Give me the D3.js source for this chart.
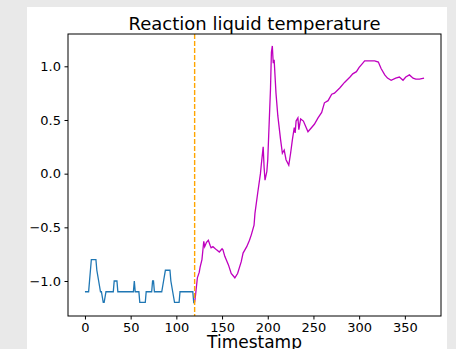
<!DOCTYPE html>
<html>
<head>
<meta charset="utf-8">
<script src="https://cdn.jsdelivr.net/npm/d3@7"></script>
<style>
    html, body { margin: 0; padding: 0; background: #e9e9e9; overflow: hidden; }
    svg { display: block; }
</style>
</head>
<body>
<svg class="chart"></svg>
<script>
// before the change (timestamps 0..120)
const beforeTime = [0, 4, 5, 6, 7, 12, 13, 15, 17, 18, 20, 21, 23, 31, 32, 35, 36, 53, 54, 55,
    59, 60, 66, 67, 73, 74, 75, 76, 84, 86, 88, 93, 94, 96, 98, 103, 104, 118, 119, 120];
const beforeTemp = [-1.1, -1.1, -1.0, -0.9, -0.8, -0.8, -0.9, -1.0, -1.1, -1.1, -1.2, -1.2, -1.1, -1.1, -1.0, -1.0, -1.1, -1.1, -1.0, -1.1,
    -1.1, -1.2, -1.2, -1.1, -1.1, -1.0, -1.0, -1.1, -1.1, -1.0, -0.9, -0.9, -1.0, -1.1, -1.2, -1.2, -1.1, -1.1, -1.2, -1.21];

// after the change (timestamps 120..371)
const afterTime = [120, 121, 123, 125, 126, 128, 130, 131, 133, 135, 137, 138, 140, 144, 147, 150, 151, 153, 157, 160,
    164, 167, 171, 173, 177, 180, 182, 185, 186, 189, 192, 193, 195, 196, 197, 199, 200, 201, 203, 204,
    205, 206, 207, 209, 211, 214, 216, 218, 220, 223, 225, 227, 229, 230, 231, 233, 234, 236, 239, 242,
    244, 248, 251, 255, 259, 262, 266, 270, 273, 279, 284, 290, 293, 297, 300, 304, 306, 312, 317, 321,
    324, 328, 331, 335, 340, 344, 348, 351, 355, 359, 362, 366, 371];
const afterTemp = [-1.2, -1.13, -0.97, -0.92, -0.87, -0.8, -0.63, -0.68, -0.64, -0.62, -0.67, -0.69, -0.68, -0.71, -0.73, -0.7, -0.71, -0.77, -0.85, -0.93,
    -0.97, -0.93, -0.82, -0.74, -0.68, -0.62, -0.57, -0.48, -0.37, -0.18, 0.0, 0.09, 0.25, 0.06, -0.06, 0.02, 0.13, 0.35, 0.79, 1.13,
    1.19, 1.03, 1.06, 0.75, 0.54, 0.32, 0.19, 0.22, 0.13, 0.08, 0.19, 0.32, 0.43, 0.38, 0.49, 0.52, 0.41, 0.51, 0.49, 0.43,
    0.39, 0.43, 0.46, 0.52, 0.57, 0.66, 0.68, 0.74, 0.75, 0.8, 0.85, 0.9, 0.93, 0.95, 0.99, 1.03, 1.05, 1.05, 1.05, 1.04,
    0.98, 0.92, 0.89, 0.87, 0.89, 0.9, 0.87, 0.9, 0.92, 0.89, 0.88, 0.88, 0.89];

const changeTime = 120;
const xTickValues = [0, 50, 100, 150, 200, 250, 300, 350];
const yTickValues = [-1.0, -0.5, 0.0, 0.5, 1.0];

const width = 456;
const height = 349;
const plot = { left: 68, right: 441, top: 34, bottom: 316 };

const chart = d3.select(`.chart`)
    .attr(`width`, width)
    .attr(`height`, height)
    .style(`font-family`, `'DejaVu Sans', sans-serif`);

// white figure area
chart.append(`rect`)
    .attr(`x`, 27)
    .attr(`y`, 7)
    .attr(`width`, 420)
    .attr(`height`, height - 7)
    .attr(`fill`, `#fff`);

const xScale = d3.scaleLinear()
    .domain([-18.55, 389.55])
    .range([plot.left, plot.right]);

const yScale = d3.scaleLinear()
    .domain([-1.326, 1.301])
    .range([plot.bottom, plot.top]);

const minus = (s) => s.replace(`-`, `\u2212`);

const xAxis = d3.axisBottom(xScale)
    .tickValues(xTickValues)
    .tickSize(3.5)
    .tickPadding(3.5)
    .tickFormat(d3.format(`d`));

const yAxis = d3.axisLeft(yScale)
    .tickValues(yTickValues)
    .tickSize(3.5)
    .tickPadding(3.5)
    .tickFormat(d => minus(d3.format(`.1f`)(d)));

const line = d3.line()
    .x(d => xScale(d[0]))
    .y(d => yScale(d[1]));

const beforeData = beforeTime.map((t, i) => [t, beforeTemp[i]]);
const afterData = afterTime.map((t, i) => [t, afterTemp[i]]);

chart.append(`path`)
    .datum(beforeData)
    .attr(`d`, line)
    .attr(`fill`, `none`)
    .attr(`stroke`, `#1f77b4`)
    .attr(`stroke-width`, 1.3);

chart.append(`path`)
    .datum(afterData)
    .attr(`d`, line)
    .attr(`fill`, `none`)
    .attr(`stroke`, `#bf00bf`)
    .attr(`stroke-width`, 1.3);

// change point
chart.append(`line`)
    .attr(`x1`, xScale(changeTime))
    .attr(`x2`, xScale(changeTime))
    .attr(`y1`, plot.top)
    .attr(`y2`, plot.bottom)
    .attr(`stroke`, `#ffa500`)
    .attr(`stroke-width`, 1.4)
    .attr(`stroke-dasharray`, `5,2`);

chart.append(`g`)
    .attr(`transform`, `translate(0, ${plot.bottom})`)
    .call(xAxis)
    .call(g => g.select(`.domain`).remove())
    .selectAll(`text`)
    .attr(`font-size`, 13)
    .attr(`font-family`, `'DejaVu Sans', sans-serif`)
    .attr(`fill`, `#000`);

chart.append(`g`)
    .attr(`transform`, `translate(${plot.left}, 0)`)
    .call(yAxis)
    .call(g => g.select(`.domain`).remove())
    .selectAll(`text`)
    .attr(`font-size`, 13)
    .attr(`font-family`, `'DejaVu Sans', sans-serif`)
    .attr(`fill`, `#000`);

chart.append(`rect`)
    .attr(`x`, plot.left)
    .attr(`y`, plot.top)
    .attr(`width`, plot.right - plot.left)
    .attr(`height`, plot.bottom - plot.top)
    .attr(`fill`, `none`)
    .attr(`stroke`, `#000`)
    .attr(`stroke-width`, 1);

chart.append(`text`)
    .attr(`x`, (plot.left + plot.right) / 2)
    .attr(`y`, 29.5)
    .attr(`text-anchor`, `middle`)
    .attr(`font-size`, 18)
    .text(`Reaction liquid temperature`);

chart.append(`text`)
    .attr(`x`, (plot.left + plot.right) / 2)
    .attr(`y`, 348)
    .attr(`text-anchor`, `middle`)
    .attr(`font-size`, 17)
    .text(`Timestamp`);
</script>
</body>
</html>
